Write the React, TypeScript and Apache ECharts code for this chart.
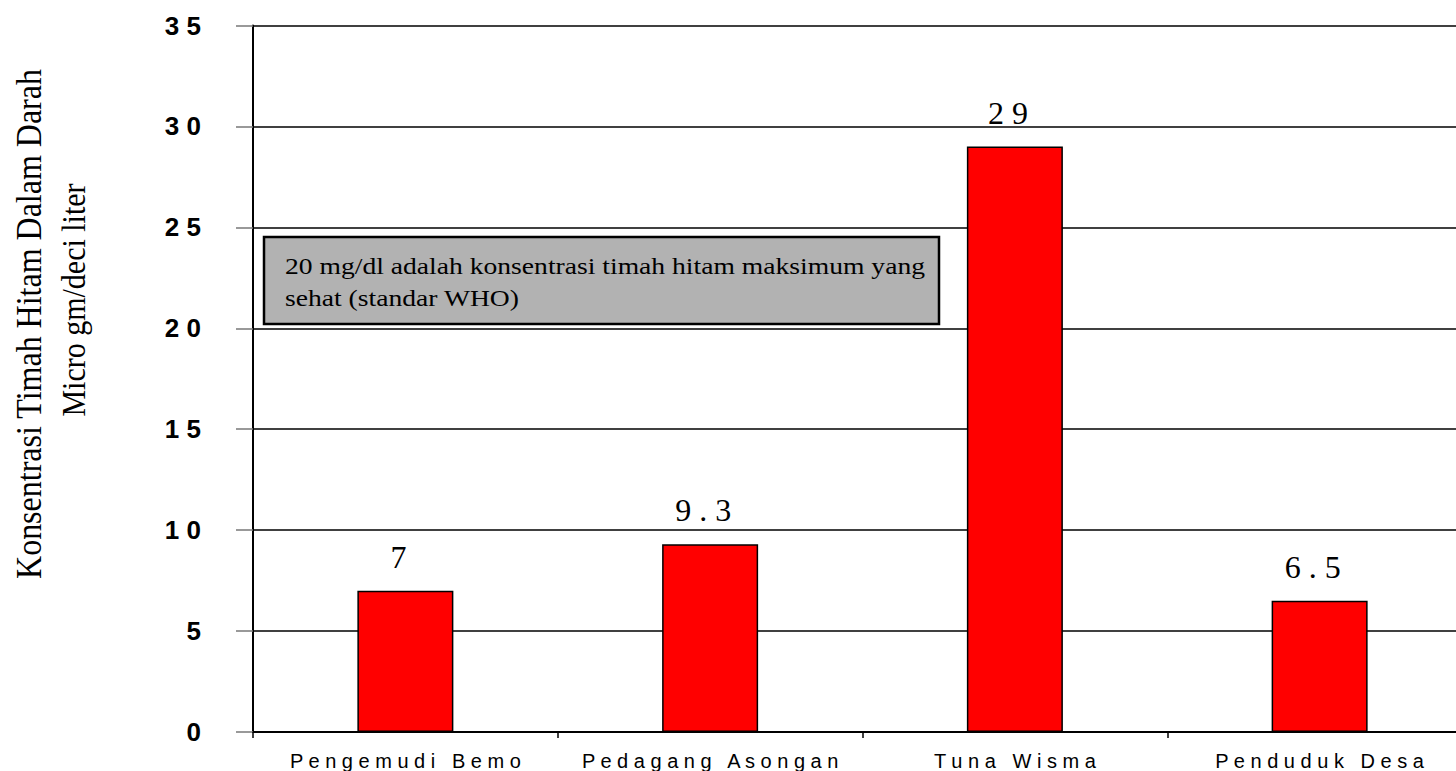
import React, { useEffect, useRef } from "react";
import * as echarts from "echarts";

const categories = ["Pengemudi Bemo", "Pedagang Asongan", "Tuna Wisma", "Penduduk Desa"];
const values = [7, 9.3, 29, 6.5];
const yTicks = { min: 0, max: 35, interval: 5 };
const yTitleLine1 = "Konsentrasi Timah Hitam Dalam Darah";
const yTitleLine2 = "Micro gm/deci liter";
const noteText = "20 mg/dl adalah konsentrasi timah hitam maksimum yang\nsehat (standar WHO)";

const spaced = (s: string) => s.split("").join(" ");

export default function App() {
  const ref = useRef<HTMLDivElement>(null);
  useEffect(() => {
    if (!ref.current) return;
    const chart = echarts.init(ref.current, null, { renderer: "svg" });
    chart.setOption({
      animation: false,
      backgroundColor: "#ffffff",
      grid: { left: 253, top: 25.5, width: 1219, height: 706.5, containLabel: false },
      xAxis: {
        type: "category",
        data: categories,
        boundaryGap: true,
        axisLine: { show: true, lineStyle: { color: "#000", width: 2 } },
        axisTick: { show: true, length: 6, alignWithLabel: false, lineStyle: { color: "#000", width: 1.5 } },
        axisLabel: {
          interval: 0,
          margin: 19,
          fontSize: 20,
          fontFamily: "Liberation Sans",
          color: "#000",
          formatter: (v: string) => spaced(v),
        },
        splitLine: { show: false },
      },
      yAxis: {
        type: "value",
        min: yTicks.min,
        max: yTicks.max,
        interval: yTicks.interval,
        axisLine: { show: true, lineStyle: { color: "#000", width: 2 } },
        axisTick: { show: true, length: 17, lineStyle: { color: "#777", width: 1.5 } },
        axisLabel: {
          margin: 52,
          fontSize: 26,
          fontWeight: "bold",
          fontFamily: "Liberation Sans",
          color: "#000",
          formatter: (v: number) => spaced(String(v)),
        },
        splitLine: { show: true, lineStyle: { color: "#000", width: 1.5 } },
      },
      series: [
        {
          type: "bar",
          data: values,
          barWidth: 96,
          itemStyle: { color: "#ff0000", borderColor: "#000", borderWidth: 1.5 },
          label: {
            show: true,
            position: "top",
            distance: 18,
            offset: [-7, 0],
            fontSize: 32,
            fontFamily: "Liberation Serif",
            color: "#000",
            formatter: (p: any) => spaced(String(p.value)),
          },
        },
      ],
      graphic: [
        {
          type: "rect",
          shape: { x: 264, y: 237, width: 675, height: 87 },
          style: { fill: "#b2b2b2", stroke: "#000", lineWidth: 2.5 },
          z: 10,
        },
        {
          type: "text",
          x: 285,
          y: 250,
          scaleX: 1.15,
          z: 11,
          style: {
            text: noteText,
            font: "24px 'Liberation Serif'",
            fill: "#000",
            lineHeight: 32,
            textAlign: "left",
            textVerticalAlign: "top",
            verticalAlign: "top",
          },
        },
        {
          type: "text",
          x: 28,
          y: 324,
          rotation: Math.PI / 2,
          scaleY: 1.15,
          z: 11,
          style: {
            text: yTitleLine1,
            font: "32px 'Liberation Serif'",
            fill: "#000",
            textAlign: "center",
            textVerticalAlign: "middle",
            verticalAlign: "middle",
          },
        },
        {
          type: "text",
          x: 73,
          y: 300,
          rotation: Math.PI / 2,
          scaleY: 1.15,
          z: 11,
          style: {
            text: yTitleLine2,
            font: "30px 'Liberation Serif'",
            fill: "#000",
            textAlign: "center",
            textVerticalAlign: "middle",
            verticalAlign: "middle",
          },
        },
      ],
    });
    return () => chart.dispose();
  }, []);
  return (
    <div
      style={{
        position: "fixed",
        left: 0,
        top: 0,
        width: 1456,
        height: 771,
        overflow: "hidden",
        background: "#fff",
      }}
    >
      <div ref={ref} style={{ width: 1480, height: 771 }} />
    </div>
  );
}
